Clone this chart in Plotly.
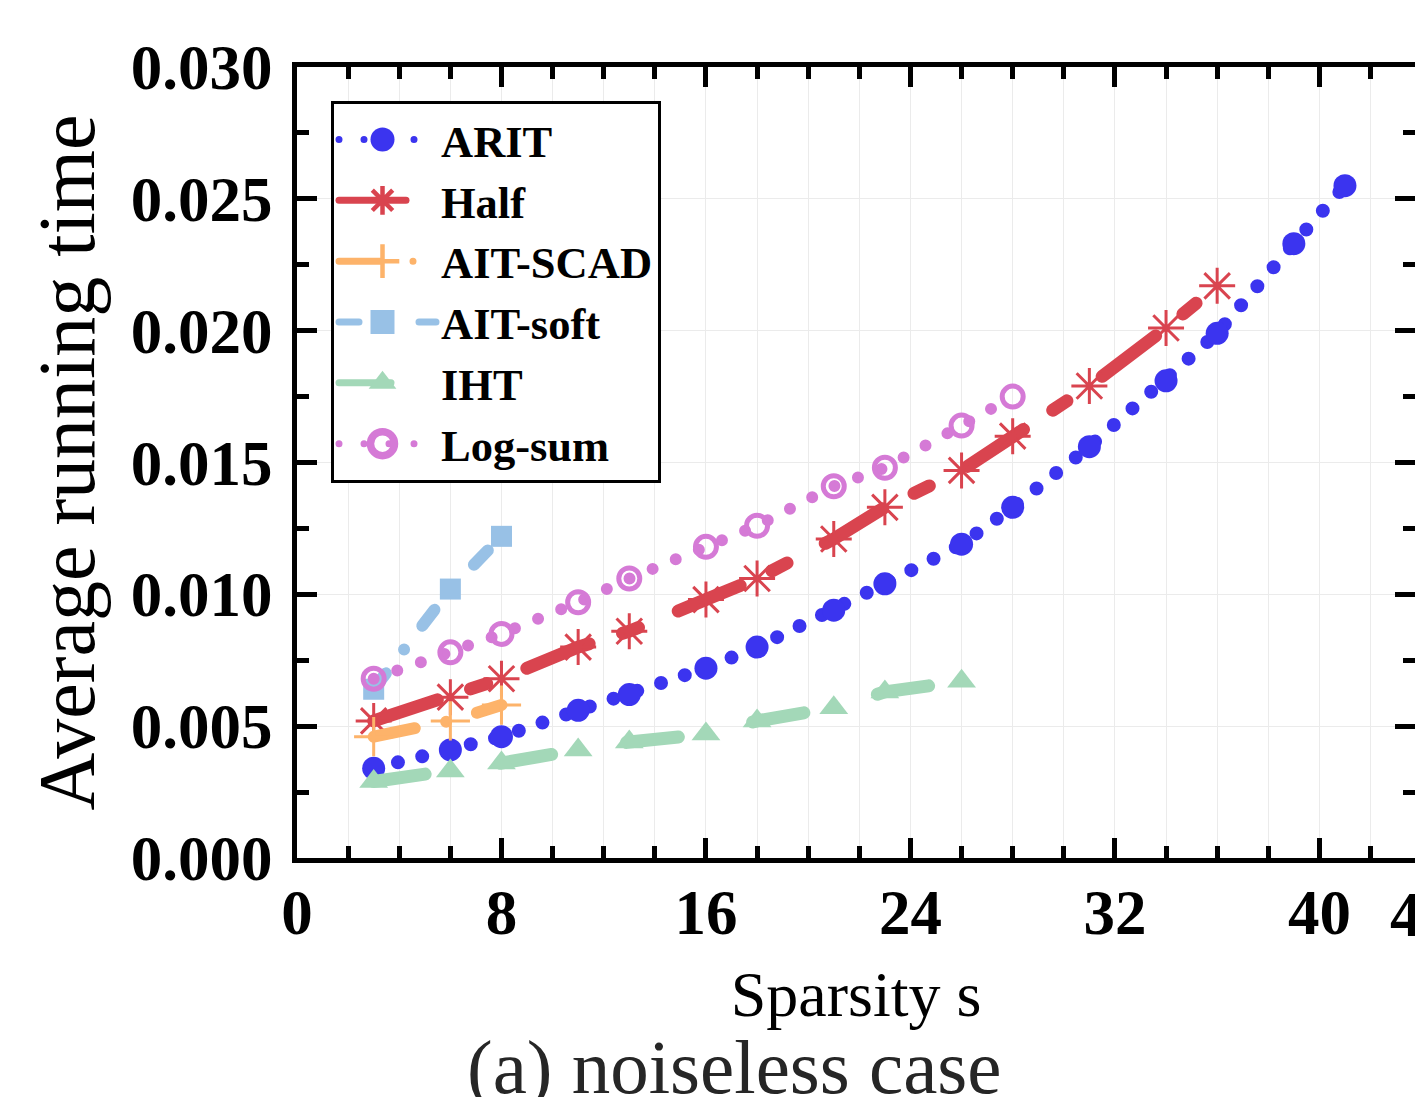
import plotly.graph_objects as go

# ---------------- data ----------------
sparsity = [3, 6, 8, 11, 13, 16, 18, 21, 23, 26, 28, 31, 34, 36, 39, 41]
arit = [0.0034, 0.0041, 0.0046, 0.0056, 0.0062, 0.0072, 0.0080, 0.0094,
        0.0104, 0.0119, 0.0133, 0.0156, 0.0181, 0.0199, 0.0233, 0.0255]
half = [0.0052, 0.0061, 0.0068, 0.0080, 0.0086, 0.0098, 0.0106, 0.0121,
        0.0133, 0.0147, 0.0160, 0.0179, 0.0201, 0.0217]
ait_scad = [0.0046, 0.0052, 0.0058]
ait_soft = [0.0064, 0.0102, 0.0122]
iht = [0.0029, 0.0033, 0.0036, 0.0041, 0.0044, 0.0047, 0.0052, 0.0057,
        0.0063, 0.0067]
log_sum = [0.0068, 0.0078, 0.0085, 0.0097, 0.0106, 0.0118, 0.0126, 0.0141,
           0.0148, 0.0164, 0.0175]

names = ["ARIT", "Half", "AIT-SCAD", "AIT-soft", "IHT", "Log-sum"]
values = [arit, half, ait_scad, ait_soft, iht, log_sum]

x_ticks = [0, 8, 16, 24, 32, 40]
x_extra_tick = 44

# ---------------- styles ----------------
styles = {
    "ARIT": dict(color="#3b34ef", dash="0px,25px", width=14,
                 marker=dict(symbol="circle", size=23)),
    "Half": dict(color="#d9444f", dash="67px,35px,17px,43px", width=13,
                 marker=dict(symbol="asterisk-open", size=30, line=dict(width=3))),
    "AIT-SCAD": dict(color="#fdb36a", dash="42px,32px,0px,32px", width=12,
                     marker=dict(symbol="cross-thin-open", size=28, line=dict(width=3))),
    "AIT-soft": dict(color="#98c1e6", dash="20px,30px,0px,30px", width=12,
                     marker=dict(symbol="square", size=21)),
    "IHT": dict(color="#a3d8b8", dash="52px,76px", width=13,
                marker=dict(symbol="triangle-up", size=25)),
    "Log-sum": dict(color="#d57ad6", dash="0px,25px", width=12,
                    marker=dict(symbol="circle-open", size=21, line=dict(width=5))),
}

SERIF = "Liberation Serif"
W, H = 1415, 1097
ML, MR, MT, MB = 297, 0, 67, 239
PX_PER_UNIT = 25.56
XMAX = (W - ML - MR) / PX_PER_UNIT
LEGEND_ITEM_W = 97

fig = go.Figure()
for name, vals in zip(names, values):
    st = styles[name]
    mk = dict(st["marker"])
    mk["color"] = st["color"]
    ln = dict(mk.get("line", {}))
    ln["color"] = st["color"]
    if "width" not in ln:
        ln["width"] = 0
    mk["line"] = ln
    fig.add_trace(go.Scatter(
        x=sparsity[:len(vals)], y=vals, name=name, mode="lines+markers",
        line=dict(color=st["color"], width=st["width"], dash=st["dash"]),
        marker=mk,
    ))

TICK_FONT = dict(family=SERIF, size=63, color="black", weight="bold")
axis_common = dict(
    showline=True, linewidth=5, linecolor="black", mirror="allticks",
    ticks="inside", ticklen=20, tickwidth=5, tickcolor="black",
    showgrid=True, gridcolor="#ebebeb", gridwidth=1, zeroline=False,
    tickfont=TICK_FONT, automargin=False,
)

fig.update_xaxes(
    **axis_common,
    range=[0, XMAX], tickmode="array", tickvals=x_ticks,
    minor=dict(dtick=2, tick0=0, ticks="inside", ticklen=12, tickwidth=5,
               tickcolor="black", showgrid=True, gridcolor="#ebebeb", gridwidth=1),
    ticklabelstandoff=-5,
    title=dict(text="Sparsity s", font=dict(family=SERIF, size=64, color="black"),
               standoff=26),
)
fig.update_yaxes(
    **axis_common,
    range=[0, 0.030], dtick=0.005, tick0=0, tickformat=".3f",
    minor=dict(dtick=0.0025, tick0=0, ticks="inside", ticklen=12, tickwidth=5,
               tickcolor="black", showgrid=False),
    ticklabelstandoff=7,
    title=dict(text="Average running time",
               font=dict(family=SERIF, size=80, color="black"), standoff=11),
)

fig.add_annotation(
    text=str(x_extra_tick), xref="paper", yref="paper",
    x=x_extra_tick / XMAX, y=0, yshift=-57, xanchor="center", yanchor="middle",
    showarrow=False, font=TICK_FONT,
)
fig.add_annotation(
    text="(a) noiseless case", xref="paper", yref="paper",
    x=(734 - ML) / (W - ML - MR), y=-0.264, xanchor="center", yanchor="middle",
    showarrow=False, font=dict(family=SERIF, size=77, color="#262626"),
)

fig.update_layout(
    width=W, height=H, margin=dict(l=ML, r=MR, t=MT, b=MB, pad=0, autoexpand=False),
    plot_bgcolor="white", paper_bgcolor="white",
    showlegend=True,
    legend=dict(x=(331 - ML) / (W - ML - MR), y=1 - (101 - MT) / (H - MT - MB),
                xanchor="left", yanchor="top", bgcolor="white",
                bordercolor="black", borderwidth=3, itemwidth=LEGEND_ITEM_W,
                font=dict(family=SERIF, size=44.5, color="black", weight="bold")),
)

center = (LEGEND_ITEM_W + 10) / 2 - 5
css = ("var s=document.createElement('style');"
       "s.innerHTML='html,body{margin:0;padding:0;overflow:hidden;}"
       ".js-line{stroke-linecap:round !important;}"
       ".legend .js-line{stroke-width:7px !important;}"
       ".legend path.scatterpts{transform:translate(" + str(center) + "px,0px) scale(1.5);}';"
       "document.head.appendChild(s);")
fig.write_html("out.html", post_script=css, config={"displayModeBar": False})
